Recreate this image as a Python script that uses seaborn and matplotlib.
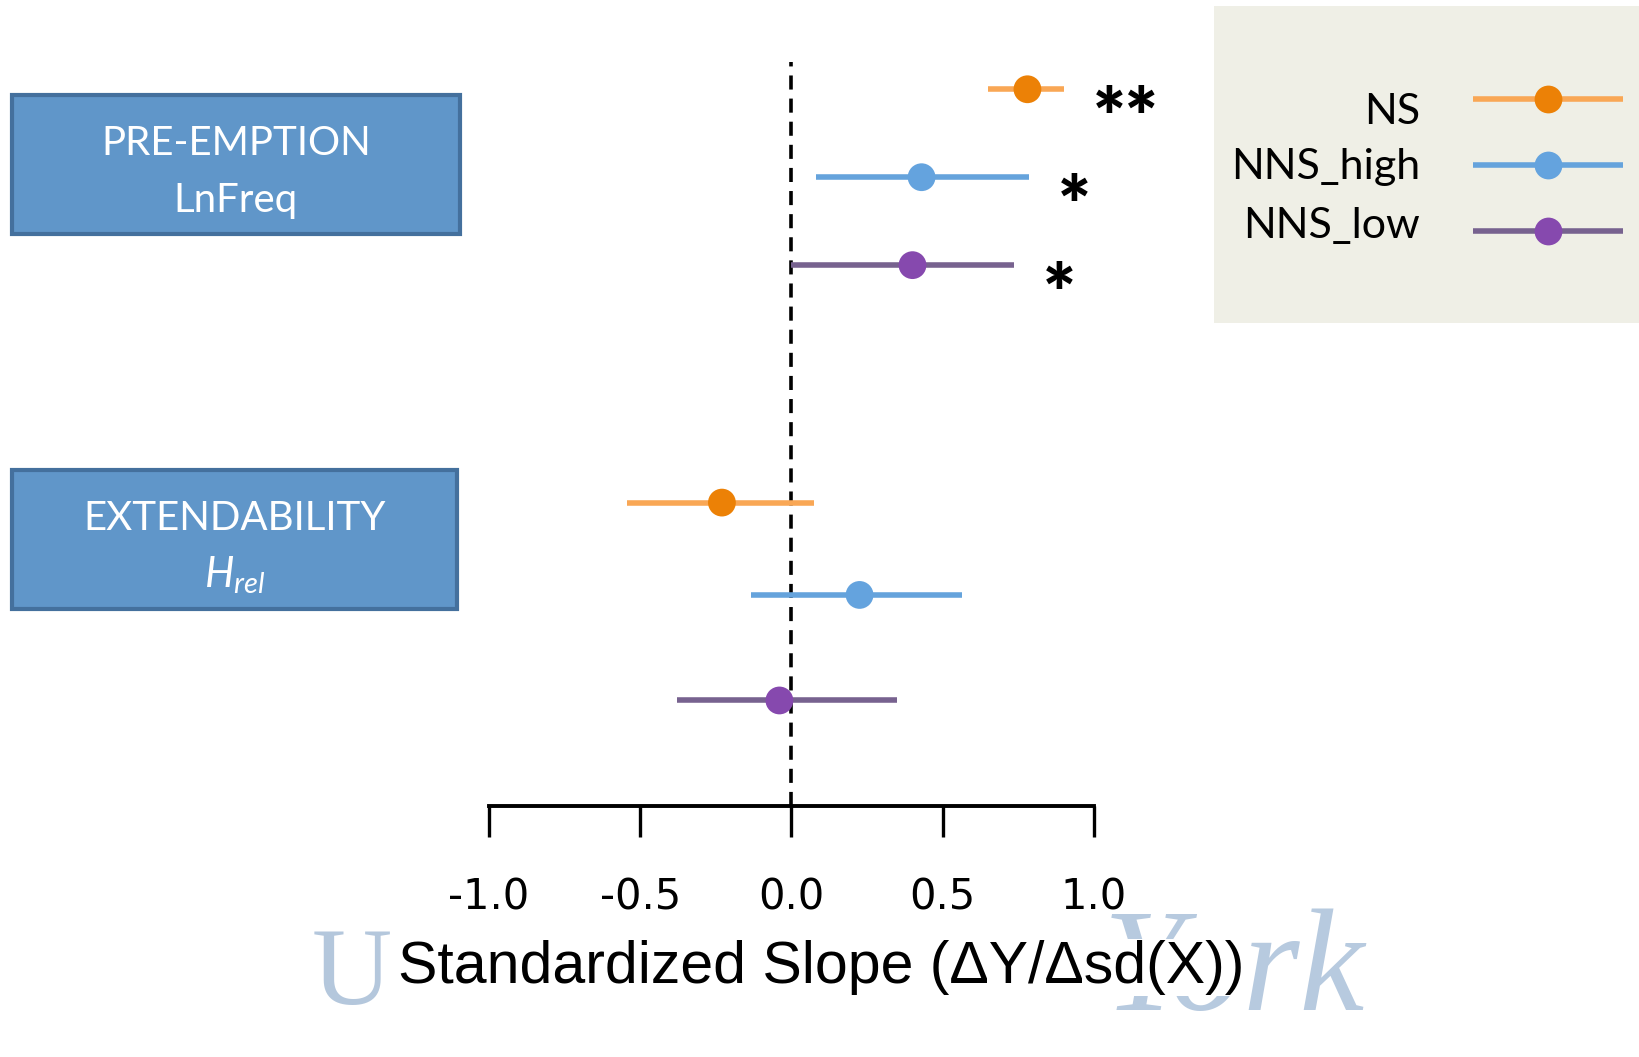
import pandas as pd
import matplotlib
matplotlib.use("Agg")
import matplotlib.pyplot as plt
import seaborn as sns
from matplotlib import font_manager
from matplotlib.patches import Rectangle

# --- DATA ---
BLOCKS = ["PRE-EMPTION\nLnFreq", "EXTENDABILITY\n$H_{rel}$"]
GROUPS = ["NS", "NNS_high", "NNS_low"]
block = ["LnFreq"] * 3 + ["Hrel"] * 3
group = GROUPS * 2
slope = [0.78, 0.43, 0.40, -0.23, 0.225, -0.04]
ci_low = [0.65, 0.08, 0.0, -0.545, -0.135, -0.38]
ci_high = [0.90, 0.785, 0.735, 0.075, 0.565, 0.35]
stars = ["**", "*", "*", "", "", ""]
xticks = [-1.0, -0.5, 0.0, 0.5, 1.0]
xtick_labels = ["-1.0", "-0.5", "0.0", "0.5", "1.0"]

# layout: vertical row positions (rows are not evenly spaced in the original)
row_pos = [0.0, 1.0, 2.0, 4.7, 5.75, 6.95]

# colours
MARKER_COLORS = {"NS": "#EC8106", "NNS_high": "#64A3DE", "NNS_low": "#8649AE"}
LINE_COLORS = {"NS": "#F9A755", "NNS_high": "#65A3DC", "NNS_low": "#77628F"}

df = pd.DataFrame({"block": block, "group": group, "slope": slope,
                   "lo": ci_low, "hi": ci_high, "star": stars, "row": row_pos})

sns.set_theme(style="white")
available = {f.name for f in font_manager.fontManager.ttflist}
narrow = "Liberation Sans Narrow" if "Liberation Sans Narrow" in available else "DejaVu Sans"
plt.rcParams["font.family"] = ["Lato", "DejaVu Sans"]
plt.rcParams["text.color"] = "black"
plt.rcParams["axes.labelcolor"] = "black"
plt.rcParams["xtick.color"] = "black"
plt.rcParams["mathtext.fontset"] = "custom"
plt.rcParams["mathtext.it"] = "Lato:italic"
plt.rcParams["mathtext.rm"] = "Lato"

W, H = 1640, 1057
fig = plt.figure(figsize=(W / 100, H / 100), dpi=100)
fig.patch.set_facecolor("white")


def fx(px):
    return px / W


def fy(py):
    return 1 - py / H


# main axes: x from -1 to 1 between pixel 489 and 1094, axis line at y=806
ax = fig.add_axes([fx(489), fy(806), fx(1094 - 489), (806 - 62) / H])
ax.set_xlim(-1, 1)
ax.set_ylim(8.15, -0.31)
ax.set_facecolor("none")

ax.axvline(0, color="black", lw=2.6, linestyle=(0, (3.9, 2.5)), zorder=1)

ax.hlines(df["row"], df["lo"], df["hi"],
          colors=[LINE_COLORS[g] for g in df["group"]], lw=4, zorder=2)
sns.scatterplot(data=df, x="slope", y="row", hue="group", palette=MARKER_COLORS,
                s=400, edgecolor="none", legend=False, zorder=3, ax=ax)

for _, r in df.iterrows():
    if r["star"]:
        ax.annotate(r["star"], xy=(r["hi"], r["row"]), xytext=(21, -40),
                    textcoords="offset points", ha="left", va="baseline",
                    fontsize=56, fontweight="heavy", color="black",
                    annotation_clip=False)

for s in ["top", "left", "right"]:
    ax.spines[s].set_visible(False)
ax.spines["bottom"].set_linewidth(2.8)
ax.spines["bottom"].set_color("black")
ax.set_yticks([])
ax.set_ylabel("")
ax.set_xticks(xticks)
ax.set_xticklabels(xtick_labels, fontfamily=narrow, fontsize=30, color="black")
ax.tick_params(axis="x", direction="out", length=22, width=2.4, color="black",
               pad=29, bottom=True)

ax.set_xlabel("Standardized Slope (ΔY/Δsd(X))", fontsize=42.5, color="black",
              fontfamily=["Liberation Sans", "DejaVu Sans"], va="baseline",
              bbox=dict(facecolor="white", edgecolor="none", pad=1), zorder=5)
ax.xaxis.set_label_coords((821 - 489) / 605, -(983 - 806) / 744)

# university watermark, drawn behind the axes so the label hides part of it
fig.text(fx(312), fy(1004), "U", fontsize=80, color="#B4C7DC",
         fontfamily=["Liberation Serif", "DejaVu Serif"], ha="left", va="baseline", zorder=-1)
fig.text(fx(1365), fy(1010), "York", fontsize=105, color="#B7CADF", style="italic",
         fontfamily=["Liberation Serif", "DejaVu Serif"], ha="right", va="baseline", zorder=-1)

# predictor boxes
box_geom = [(12, 95, 460, 234), (12, 470, 457, 609)]
for (x0, y0, x1, y1), label in zip(box_geom, BLOCKS):
    fig.add_artist(Rectangle((fx(x0), fy(y1)), fx(x1 - x0), (y1 - y0) / H,
                             transform=fig.transFigure, facecolor="#6096C9",
                             edgecolor="#44709D", lw=3))
    top, bottom = label.split("\n")
    cx = fx((x0 + x1) / 2)
    fig.text(cx, fy(y0 + 60), top, fontsize=29, color="white", ha="center", va="baseline")
    fig.text(cx, fy(y0 + 117), bottom, fontsize=30 if "$" in bottom else 29,
             color="white", ha="center", va="baseline")

# legend panel
lax = fig.add_axes([fx(1214), fy(323), fx(W - 1214), (323 - 6) / H])
lax.set_facecolor("#EFEFE6")
lax.set_xlim(1214, W)
lax.set_ylim(323, 6)
for s in lax.spines.values():
    s.set_visible(False)
lax.set_xticks([])
lax.set_yticks([])
for g, ly, ty in zip(GROUPS, [99, 165, 231], [112, 167, 226]):
    lax.plot([1473, 1623], [ly, ly], color=LINE_COLORS[g], lw=4, solid_capstyle="butt")
    lax.plot([1548], [ly], marker="o", markersize=20, color=MARKER_COLORS[g], mec="none")
    lax.text(1420, ty, g, fontsize=31, ha="right", va="center", color="black")

fig.savefig("out.png", dpi=100)
